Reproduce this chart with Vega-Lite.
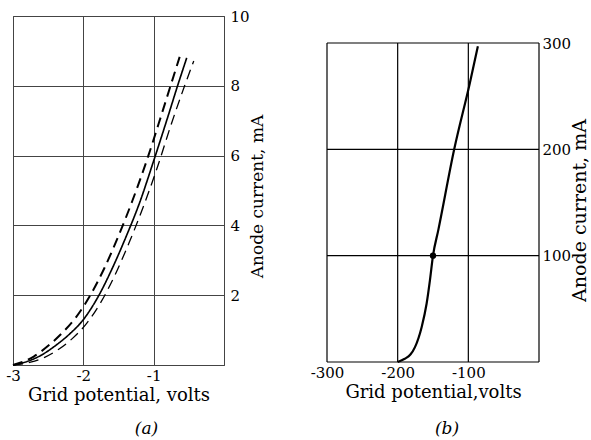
{
  "$schema": "https://vega.github.io/schema/vega-lite/v6.json",
  "background": "white",
  "padding": {"left": 5, "top": 8, "right": 1, "bottom": 1},
  "spacing": 44,
  "config": {
    "font": "DejaVu Serif",
    "view": {"stroke": "#444", "strokeWidth": 1},
    "axis": {
      "domain": false,
      "ticks": false,
      "grid": true,
      "gridColor": "#444",
      "gridWidth": 1,
      "labelColor": "black",
      "titleColor": "black",
      "labelFont": "DejaVu Serif",
      "titleFont": "DejaVu Serif",
      "titleFontWeight": "normal",
      "labelFlush": false,
      "labelFontSize": 15,
      "titleFontSize": 18
    },
    "title": {"font": "DejaVu Serif", "fontWeight": "normal", "color": "black"}
  },
  "datasets": {
    "a": [
      {"curve": "lower", "v": -3.0, "i": 0.0},
      {"curve": "lower", "v": -2.85, "i": 0.1},
      {"curve": "lower", "v": -2.7, "i": 0.25},
      {"curve": "lower", "v": -2.5, "i": 0.55},
      {"curve": "lower", "v": -2.3, "i": 0.92},
      {"curve": "lower", "v": -2.1, "i": 1.38},
      {"curve": "lower", "v": -1.9, "i": 2.0},
      {"curve": "lower", "v": -1.7, "i": 2.78},
      {"curve": "lower", "v": -1.5, "i": 3.7},
      {"curve": "lower", "v": -1.3, "i": 4.72},
      {"curve": "lower", "v": -1.1, "i": 5.85},
      {"curve": "lower", "v": -0.9, "i": 7.1},
      {"curve": "lower", "v": -0.76, "i": 8.0},
      {"curve": "lower", "v": -0.63, "i": 8.83},
      {"curve": "mean", "v": -3.0, "i": 0.0},
      {"curve": "mean", "v": -2.8, "i": 0.1},
      {"curve": "mean", "v": -2.6, "i": 0.28},
      {"curve": "mean", "v": -2.4, "i": 0.55},
      {"curve": "mean", "v": -2.2, "i": 0.88},
      {"curve": "mean", "v": -2.0, "i": 1.3},
      {"curve": "mean", "v": -1.8, "i": 1.92},
      {"curve": "mean", "v": -1.6, "i": 2.72},
      {"curve": "mean", "v": -1.4, "i": 3.64},
      {"curve": "mean", "v": -1.2, "i": 4.65},
      {"curve": "mean", "v": -1.0, "i": 5.85},
      {"curve": "mean", "v": -0.8, "i": 7.1},
      {"curve": "mean", "v": -0.66, "i": 8.0},
      {"curve": "mean", "v": -0.53, "i": 8.8},
      {"curve": "upper", "v": -3.0, "i": 0.0},
      {"curve": "upper", "v": -2.75, "i": 0.08},
      {"curve": "upper", "v": -2.55, "i": 0.22},
      {"curve": "upper", "v": -2.35, "i": 0.45},
      {"curve": "upper", "v": -2.15, "i": 0.77},
      {"curve": "upper", "v": -1.95, "i": 1.2},
      {"curve": "upper", "v": -1.75, "i": 1.8},
      {"curve": "upper", "v": -1.55, "i": 2.58},
      {"curve": "upper", "v": -1.35, "i": 3.5},
      {"curve": "upper", "v": -1.15, "i": 4.52},
      {"curve": "upper", "v": -0.95, "i": 5.65},
      {"curve": "upper", "v": -0.75, "i": 6.9},
      {"curve": "upper", "v": -0.56, "i": 8.0},
      {"curve": "upper", "v": -0.43, "i": 8.71}
    ],
    "b": [
      {"v": -200, "i": 0},
      {"v": -190, "i": 3},
      {"v": -182, "i": 7},
      {"v": -175.5, "i": 14},
      {"v": -166, "i": 33},
      {"v": -159, "i": 55},
      {"v": -154.3, "i": 77},
      {"v": -150, "i": 100},
      {"v": -142.5, "i": 124},
      {"v": -120, "i": 200},
      {"v": -98, "i": 262},
      {"v": -86.5, "i": 297}
    ],
    "bdot": [{"v": -150, "i": 100}],
    "bgrid": [
      {"x1": -300, "x2": -300, "y1": 0, "y2": 300},
      {"x1": -200, "x2": -200, "y1": 0, "y2": 300},
      {"x1": -100, "x2": -100, "y1": 0, "y2": 300},
      {"x1": 0, "x2": 0, "y1": 0, "y2": 300},
      {"x1": -300, "x2": 0, "y1": 0, "y2": 0},
      {"x1": -300, "x2": 0, "y1": 100, "y2": 100},
      {"x1": -300, "x2": 0, "y1": 200, "y2": 200},
      {"x1": -300, "x2": 0, "y1": 300, "y2": 300}
    ]
  },
  "hconcat": [
    {
      "width": 211,
      "height": 349,
      "title": {"text": "(a)", "orient": "bottom", "fontStyle": "italic", "fontSize": 17, "offset": 17, "dx": 28},
      "data": {"name": "a"},
      "mark": {"type": "line", "color": "black", "interpolate": "monotone"},
      "encoding": {
        "x": {
          "field": "v", "type": "quantitative",
          "scale": {"domain": [-3, 0], "nice": false, "zero": false},
          "axis": {"values": [-3, -2, -1, 0], "labelExpr": "datum.value == 0 ? '' : '-' + abs(datum.value)", "labelPadding": 3, "titlePadding": 3, "title": "Grid potential, volts"}
        },
        "y": {
          "field": "i", "type": "quantitative",
          "scale": {"domain": [0, 10], "nice": false},
          "axis": {"orient": "right", "values": [0, 2, 4, 6, 8, 10], "labelExpr": "datum.value == 0 ? '' : datum.label", "labelPadding": 6, "title": "Anode current, mA", "titleFontSize": 17, "titleAngle": 270, "titleBaseline": "top", "titlePadding": 0, "titleY": 180}
        },
        "detail": {"field": "curve", "type": "nominal"},
        "strokeDash": {"field": "curve", "type": "nominal", "scale": {"domain": ["lower", "mean", "upper"], "range": [[10, 6], [1, 0], [10, 6]]}, "legend": null},
        "strokeWidth": {"field": "curve", "type": "nominal", "scale": {"domain": ["lower", "mean", "upper"], "range": [2, 1.3, 2]}, "legend": null}
      }
    },
    {
      "width": 212,
      "height": 346,
      "view": {"stroke": null},
      "title": {"text": "(b)", "orient": "bottom", "fontStyle": "italic", "fontSize": 17, "offset": 20, "dx": 14},
      "layer": [
        {
          "data": {"name": "bgrid"},
          "mark": {"type": "rule", "color": "black", "strokeWidth": 1.2},
          "encoding": {
            "x": {
              "field": "x1", "type": "quantitative",
              "scale": {"domain": [-300, 0], "nice": false, "zero": false},
              "axis": {"values": [-300, -200, -100, 0], "grid": false, "labelExpr": "datum.value == 0 ? '' : '-' + abs(datum.value)", "labelPadding": 3, "titlePadding": 3, "labelFontSize": 15, "title": "Grid potential,volts"}
            },
            "x2": {"field": "x2"},
            "y": {
              "field": "y1", "type": "quantitative",
              "scale": {"domain": [0, 325.4], "nice": false, "zero": false},
              "axis": {"orient": "right", "values": [100, 200, 300], "grid": false, "labelPadding": 3, "labelFontSize": 15, "title": "Anode current, mA", "titleFontSize": 19, "titleAngle": 270, "titleBaseline": "top", "titlePadding": 0, "titleY": 194}
            },
            "y2": {"field": "y2"}
          }
        },
        {
          "data": {"name": "b"},
          "mark": {"type": "line", "color": "black", "strokeWidth": 2.2, "interpolate": "monotone"},
          "encoding": {
            "x": {"field": "v", "type": "quantitative"},
            "y": {"field": "i", "type": "quantitative"}
          }
        },
        {
          "data": {"name": "bdot"},
          "mark": {"type": "point", "filled": true, "color": "black", "size": 40, "opacity": 1},
          "encoding": {
            "x": {"field": "v", "type": "quantitative"},
            "y": {"field": "i", "type": "quantitative"}
          }
        }
      ]
    }
  ]
}
